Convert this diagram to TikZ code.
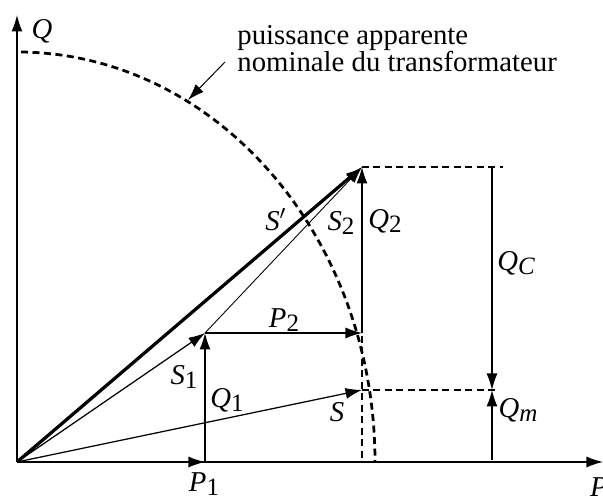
\documentclass[tikz,border=0pt]{standalone}
\usepackage{fontspec}
\setmainfont{Liberation Serif}
\usetikzlibrary{arrows.meta}
\newcommand{\idx}[1]{\raisebox{-0.35ex}{\fontsize{10}{10}\selectfont #1}}
\tikzset{
  vec/.style={line width=0.5pt,-{Latex[length=6.6pt,width=4.4pt]}},
  dash line/.style={line width=1.1pt,dash pattern=on 2.8pt off 1.8pt},
  lbl/.style={font=\fontsize{11.5}{11}\selectfont\itshape,inner sep=0pt},
  note/.style={font=\fontsize{11.5}{11}\selectfont,inner sep=0pt,anchor=base west},
}
\begin{document}
\begin{tikzpicture}[x=0.4pt,y=0.4pt]
        \useasboundingbox (-17,-37) rectangle (586,462);
        % points
        \coordinate (O) at (0,0);\coordinate (xend) at (586,0);\coordinate (yend) at (0,447);
        \coordinate (P1) at (188,0);\coordinate (S1) at (188,129);\coordinate (P2) at (345,129);
        \coordinate (S2) at (345,295);\coordinate (S) at (345,72);\coordinate (P2low) at (345,126);\coordinate (Pfoot) at (345,0);
        \coordinate (C2) at (486,295);\coordinate (Cm) at (483,72);
        \coordinate (QCtop) at (475,295);\coordinate (QCbot) at (475,72);\coordinate (Qmfoot) at (475,2);
        \coordinate (arctop) at (4,410);\coordinate (notetail) at (208,400);\coordinate (notehead) at (171,362);
        % axes
        \draw [vec] (O) -- (xend);\draw [vec] (O) -- (yend);
        % circle
        \draw [dash line] (arctop) arc [start angle=89.36,end angle=0,x radius=358,y radius=410];
        % dashed
        \draw [dash line] (S2) -- (C2);\draw [dash line] (S) -- (Cm);\draw [dash line] (P2low) -- (Pfoot);
        % vectors
        \draw [vec] (O) -- (P1);\draw [vec] (P1) -- (S1);\draw [vec] (O) -- (S1);
        \draw [vec] (S1) -- (P2);\draw [vec] (P2) -- (S2);\draw [vec,line width=0.35pt] (S1) -- (S2);
        \draw [vec,line width=1.3pt] (O) -- (S2);\draw [vec] (O) -- (S);
        \draw [vec] (QCtop) -- (QCbot);\draw [vec] (Qmfoot) -- (QCbot);
        \draw [vec,line width=0.4pt] (notetail) -- (notehead);
        % lecter
        \node [lbl] (labQ) at (25,431) {Q};\node [lbl] (labP) at (582,-25) {P};
        \node [lbl] (labP1) at (187,-22) {P\idx{\upshape 1}};\node [lbl] (labS1) at (167,85) {S\idx{\upshape 1}};
        \node [lbl] (labQ1) at (210,62) {Q\idx{\upshape 1}};\node [lbl] (labP2) at (267,142) {P\idx{\upshape 2}};
        \node [lbl] (labSp) at (259,242) {S$'$};\node [lbl] (labS2) at (324,239) {S\idx{\upshape 2}};
        \node [lbl] (labQ2) at (368,241) {Q\idx{\upshape 2}};\node [lbl] (labQC) at (499,199) {Q\idx{C}};
        \node [lbl] (labS) at (320,50) {S};\node [lbl] (labQm) at (501,52) {Q\idx{m}};
        \node [note] (note1) at (220,417) {puissance apparente};
        \node [note] (note2) at (220,390) {nominale du transformateur};
    \end{tikzpicture}
\end{document}
